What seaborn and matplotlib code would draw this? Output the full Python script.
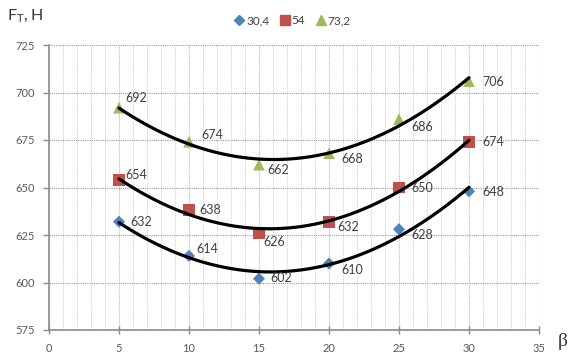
import numpy as np
import pandas as pd
import matplotlib
matplotlib.use("Agg")
import matplotlib.pyplot as plt
import seaborn as sns
from matplotlib.ticker import MultipleLocator
from matplotlib.lines import Line2D

# ---- data ----
beta = [5, 10, 15, 20, 25, 30]
series_names = ["30,4", "54", "73,2"]
f_304 = [632, 614, 602, 610, 628, 648]
f_54 = [654, 638, 626, 632, 650, 674]
f_732 = [692, 674, 662, 668, 686, 706]
x_ticks = [0, 5, 10, 15, 20, 25, 30, 35]
y_ticks = [575, 600, 625, 650, 675, 700, 725]

df = pd.DataFrame({
    "beta": beta * 3,
    "F": f_304 + f_54 + f_732,
    "series": [s for s in series_names for _ in beta],
})

# ---- styles ----
colors = ["#4F81BD", "#C0504D", "#9BBB59"]
markers = ["D", "s", "^"]
msizes = [38, 70, 70]
# label offsets in pixels (dx, dy) – dy positive = up
offsets = [
    [(11, 0), (7, 7), (11, 1), (12, -7), (12, -6), (13, -1)],
    [(6, 5), (10, 0), (4, -9), (8, -5), (12, 0), (13, 0)],
    [(6, 10), (12, 7), (8, -5), (12, -6), (12, -8), (13, -1)],
]

sns.set_theme(style="white")
plt.rcParams["font.family"] = ["Lato", "DejaVu Sans"]

fig = plt.figure(figsize=(5.71, 3.56), dpi=100)
ax = fig.add_axes([49 / 571, 1 - 330 / 356, 490 / 571, 285 / 356])

for i, name in enumerate(series_names):
    sub = df[df["series"] == name]
    sns.regplot(data=sub, x="beta", y="F", order=2, ci=None, scatter=False,
                truncate=True, ax=ax,
                line_kws=dict(color="black", lw=2.3, zorder=3))
    sns.scatterplot(data=sub, x="beta", y="F", marker=markers[i], s=msizes[i],
                    color=colors[i], edgecolor="none", linewidth=0, ax=ax, zorder=2)
    for j, (xv, yv) in enumerate(zip(sub["beta"], sub["F"])):
        dx, dy = offsets[i][j]
        ax.annotate(f"{yv}", (xv, yv), xytext=(dx, dy), textcoords="offset pixels",
                    ha="left", va="center", fontsize=9, color="#404040", zorder=4)

ax.set_xlim(0, 35)
ax.set_ylim(575, 725)
ax.set_xticks(x_ticks)
ax.set_yticks(y_ticks)
ax.xaxis.set_minor_locator(MultipleLocator(1))
ax.set_xlabel("")
ax.set_ylabel("")

ax.grid(which="major", axis="y", color="#9a9a9a", linestyle=(0, (1, 1)), lw=0.8)
ax.grid(which="major", axis="x", color="#b8b8b8", linestyle=(0, (1, 1)), lw=0.8)
ax.grid(which="minor", axis="x", color="#cfcfcf", linestyle=(0, (1, 1)), lw=0.7)
ax.set_axisbelow(True)

for s in ["top", "right"]:
    ax.spines[s].set_visible(False)
for s in ["left", "bottom"]:
    ax.spines[s].set_color("#8c8c8c")
    ax.spines[s].set_linewidth(1.2)

ax.tick_params(axis="y", which="major", left=True, length=4, width=1, color="#8c8c8c",
               direction="out", labelsize=8, labelcolor="#595959", pad=6)
ax.tick_params(axis="x", which="major", bottom=True, length=6, width=1, color="#8c8c8c",
               direction="inout", labelsize=8, labelcolor="#595959", pad=6)
ax.tick_params(axis="x", which="minor", bottom=False)

fig.text(7 / 571, 1 - 16 / 356, "F$_\\mathregular{T}$, Н", fontsize=11.5, color="#333333",
         ha="left", va="center")
fig.text(563 / 571, 1 - 341 / 356, "β", fontsize=14, color="#333333", ha="center",
         va="center", family=["Liberation Serif", "DejaVu Serif"])

handles = [Line2D([], [], marker=markers[i], color=colors[i], linestyle="none",
                  markersize=[5, 7, 7][i]) for i in range(3)]
fig.legend(handles, series_names, loc="center", bbox_to_anchor=(292 / 571, 1 - 21 / 356),
           ncol=3, frameon=False, fontsize=8.5, handletextpad=0.1, columnspacing=0.8,
           handlelength=1.0, labelcolor="#404040")

fig.savefig("out.png", dpi=100, facecolor="white")
